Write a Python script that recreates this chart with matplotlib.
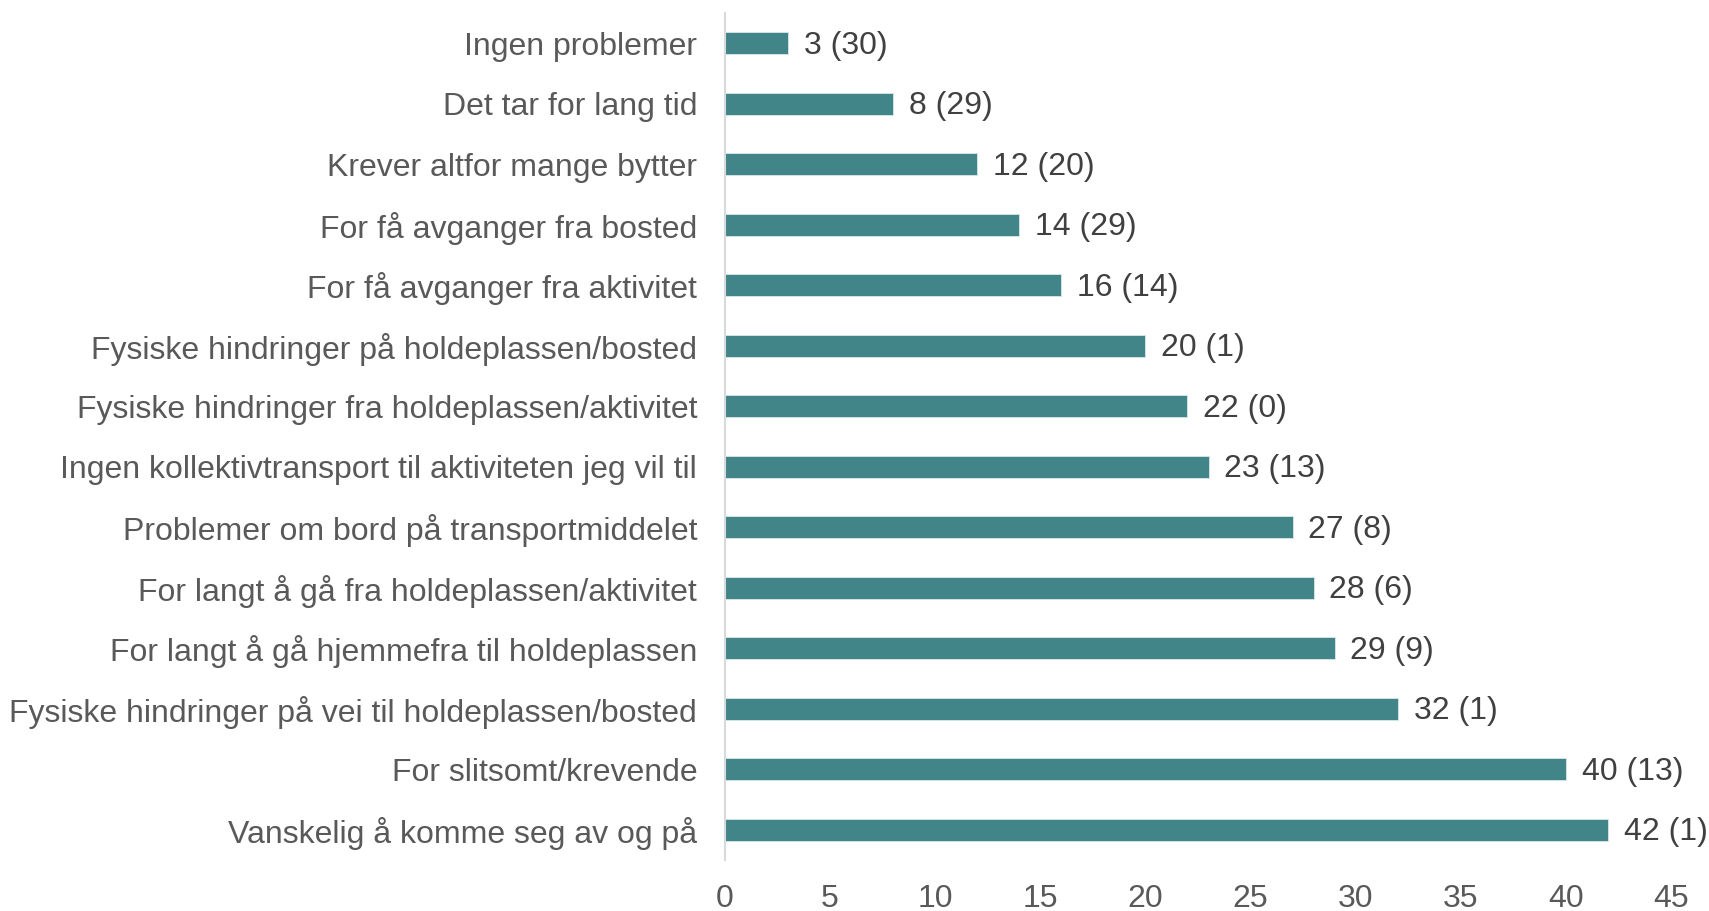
import matplotlib
matplotlib.use("Agg")
from matplotlib import pyplot as plt

categories = [
    "Ingen problemer",
    "Det tar for lang tid",
    "Krever altfor mange bytter",
    "For få avganger fra bosted",
    "For få avganger fra aktivitet",
    "Fysiske hindringer på holdeplassen/bosted",
    "Fysiske hindringer fra holdeplassen/aktivitet",
    "Ingen kollektivtransport til aktiviteten jeg vil til",
    "Problemer om bord på transportmiddelet",
    "For langt å gå fra holdeplassen/aktivitet",
    "For langt å gå hjemmefra til holdeplassen",
    "Fysiske hindringer på vei til holdeplassen/bosted",
    "For slitsomt/krevende",
    "Vanskelig å komme seg av og på",
]
values = [3, 8, 12, 14, 16, 20, 22, 23, 27, 28, 29, 32, 40, 42]
others = [30, 29, 20, 29, 14, 1, 0, 13, 8, 6, 9, 1, 13, 1]
xticks = [0, 5, 10, 15, 20, 25, 30, 35, 40, 45]

plt.rcParams['font.family'] = ['Liberation Sans', 'DejaVu Sans']

fig = plt.figure(figsize=(17.09, 9.11), dpi=100)
ax = fig.add_axes([0.4242, 0.056, 0.5536, 0.9297])

pos = list(range(len(categories)))
ax.barh(pos, values, height=0.36, color='#418589', edgecolor='#d9e8e9', linewidth=0.6)

for p, v, o in zip(pos, values, others):
    ax.text(v + 0.75, p + 0.04, f"{v} ({o})", va='center', ha='left', fontsize=23, color='#404040')

ax.set_ylim(len(categories) - 0.5, -0.5)
ax.set_xlim(0, 45)
ax.set_yticks(pos)
ax.set_yticklabels(categories, fontsize=23, color='#595959')
ax.set_xticks(xticks)
ax.set_xticklabels([str(t) for t in xticks], fontsize=23, color='#595959')
ax.tick_params(axis='both', length=0)
ax.tick_params(axis='y', pad=20)
ax.tick_params(axis='x', pad=17)

for s in ['top', 'right', 'bottom']:
    ax.spines[s].set_visible(False)
ax.spines['left'].set_color('#d9d9d9')
ax.spines['left'].set_linewidth(1.5)

fig.savefig("out.png", dpi=100)
